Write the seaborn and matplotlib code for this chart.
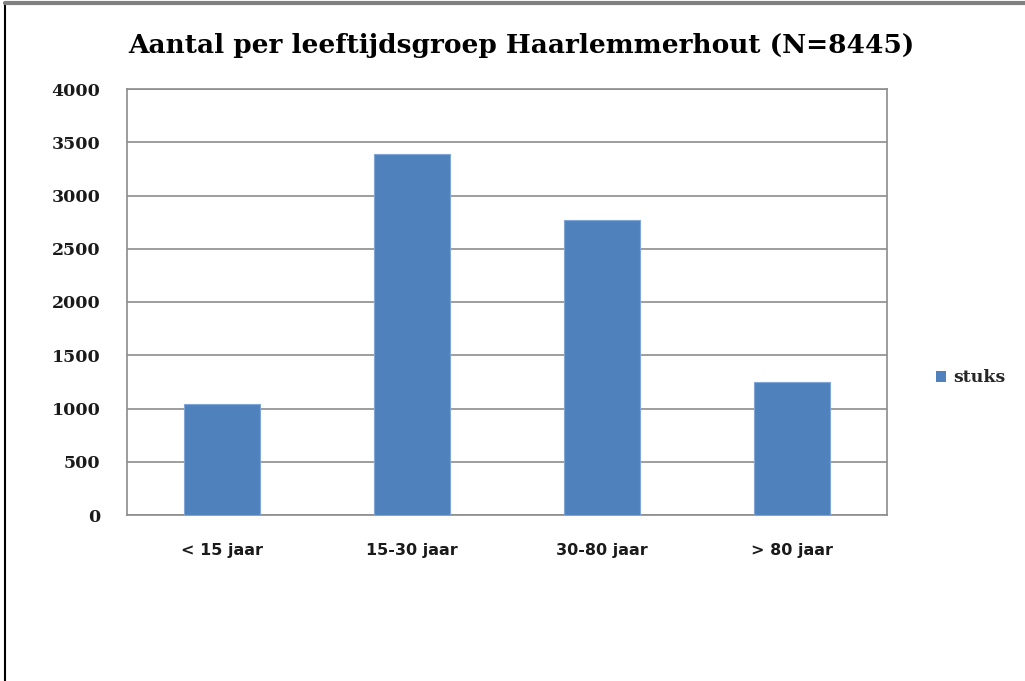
import matplotlib
matplotlib.use("Agg")
import matplotlib.pyplot as plt
import seaborn as sns
import pandas as pd
from matplotlib.lines import Line2D
from matplotlib.patches import Patch

categories = ["< 15 jaar", "15-30 jaar", "30-80 jaar", "> 80 jaar"]
values = [1045, 3385, 2770, 1245]
series_name = "stuks"
title = "Aantal per leeftijdsgroep Haarlemmerhout (N=8445)"
yticks = [0, 500, 1000, 1500, 2000, 2500, 3000, 3500, 4000]

sns.set_theme(style="white")
df = pd.DataFrame({"cat": categories, "val": values})

fig = plt.figure(figsize=(10.25, 6.81), dpi=100)
ax = fig.add_axes([127/1025, 1-515/681, 760/1025, 426/681])
color = "#4F81BD"
sns.barplot(data=df, x="cat", y="val", color=color, width=0.4, ax=ax,
            saturation=1, edgecolor="#7FA6D6", linewidth=0.8, zorder=3)
ax.set_ylim(0, 4000)
ax.set_xlim(-0.5, 3.5)
ax.set_yticks(yticks)
ax.set_yticklabels([str(t) for t in yticks], fontfamily="DejaVu Serif",
                   fontweight="bold", fontsize=12.5, color="#1a1a1a")
ax.set_xticks(range(len(categories)))
ax.set_xticklabels(categories, fontfamily="DejaVu Sans", fontweight="bold",
                   fontsize=11.5, color="#1a1a1a")
ax.tick_params(axis="y", length=0, pad=19)
ax.tick_params(axis="x", length=0, pad=20)
ax.set_xlabel("")
ax.set_ylabel("")
ax.yaxis.grid(True, color="#8C8C8C", linewidth=1.2, zorder=0)
ax.set_axisbelow(True)
for s in ax.spines.values():
    s.set_color("#8C8C8C")
    s.set_linewidth(1.2)

fig.text(521/1025, 1-46/681, title, ha="center", va="center",
         fontfamily="DejaVu Serif", fontweight="bold", fontsize=19, color="black")

ax.legend(handles=[Patch(facecolor=color, edgecolor="none", label=series_name)],
          loc="center left", bbox_to_anchor=(920/1025, 1-378/681),
          bbox_transform=fig.transFigure, frameon=False, handlelength=0.6,
          handleheight=0.6, handletextpad=0.4,
          prop={"family": "DejaVu Serif", "weight": "bold", "size": 12.5})

fig.add_artist(Line2D([5/1025, 5/1025], [0, 1-3/681], color="black", linewidth=1.5,
                      transform=fig.transFigure))
fig.add_artist(Line2D([5/1025, 1], [1-3/681, 1-3/681], color="#808080", linewidth=3,
                      transform=fig.transFigure))

fig.savefig("out.png", dpi=100, facecolor="white")
